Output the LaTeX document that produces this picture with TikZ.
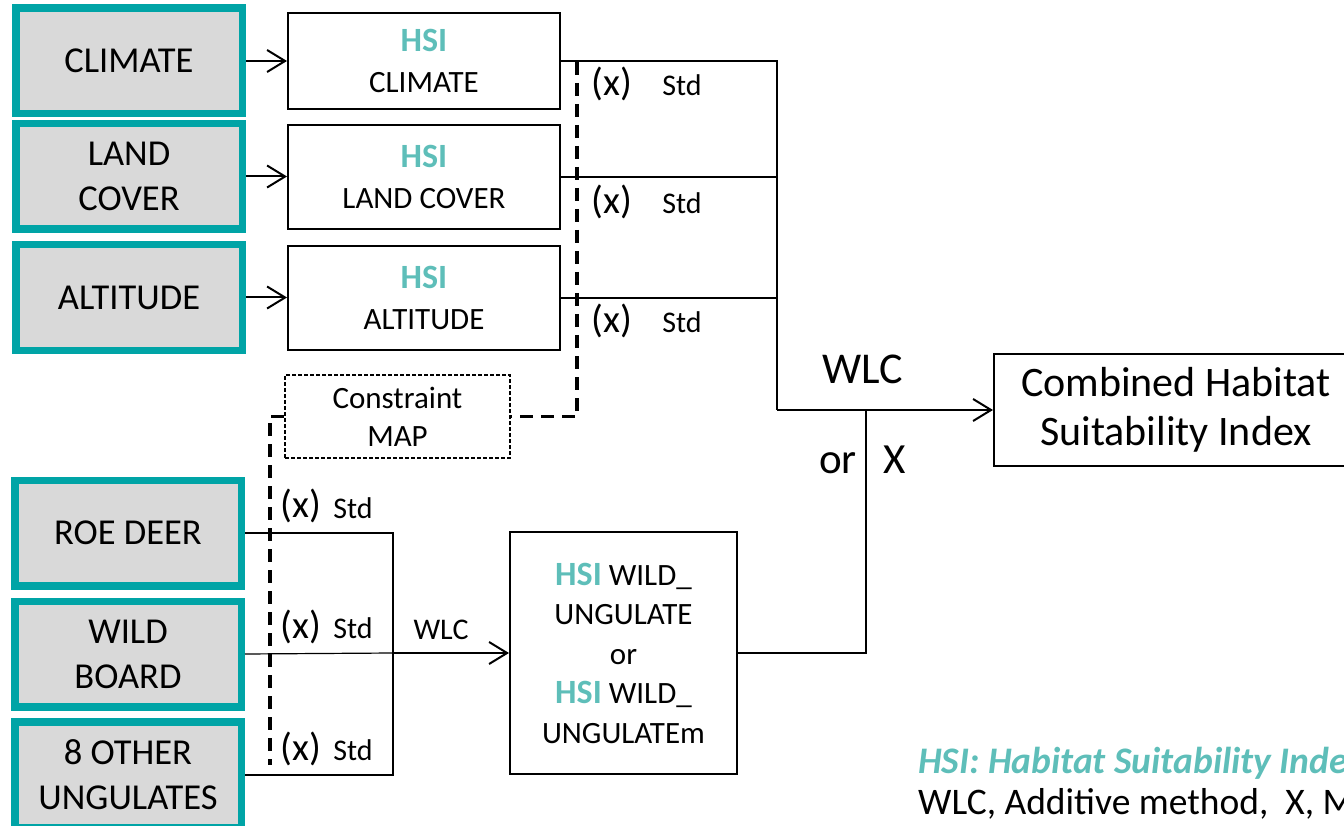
\documentclass[tikz,border=0pt]{standalone}
\usepackage{fontspec}
\setmainfont{Carlito}
\usetikzlibrary{arrows.meta}
\definecolor{boxteal}{RGB}{0,164,166}
\definecolor{hsiteal}{RGB}{94,190,185}
\definecolor{boxgrey}{RGB}{217,217,217}
\newcommand{\hsitag}{{\fontsize{34}{41}\selectfont\bfseries\color{hsiteal}HSI}}
\begin{document}
\begin{tikzpicture}[x=1pt,y=-1pt,
  factor/.style={draw=boxteal,fill=boxgrey,line width=7.5pt,minimum width=226.5pt,
    minimum height=105.5pt,align=center,inner sep=0pt,font=\fontsize{36.5}{45}\selectfont},
  hsibox/.style={draw,line width=2pt,minimum width=272pt,minimum height=104pt,
    align=center,inner sep=0pt,font=\fontsize{31}{41}\selectfont},
  link/.style={line width=2pt},
  arr/.style={line width=2pt,-{Straight Barb[length=18pt,width=22pt]}},
  dashlink/.style={line width=3.5pt,dash pattern=on 13pt off 8pt},
  xlab/.style={anchor=base,inner sep=0pt,font=\fontsize{39}{45}\selectfont},
  stdlab/.style={anchor=base,inner sep=0pt,font=\fontsize{30}{36}\selectfont}]
\useasboundingbox (0,0) rectangle (1344,826);
\clip (0,0) rectangle (1344,826);

% input maps
\node[factor] (clim) at (129,61) {CLIMATE};
\node[factor] (land) at (129,176.5) {LAND\\COVER};
\node[factor] (alt) at (129,297.5) {ALTITUDE};
\node[factor] (roe) at (128,533) {ROE DEER};
\node[factor] (boar) at (128,654) {WILD\\BOARD};
\node[factor] (oth) at (128,774.5) {8 OTHER\\UNGULATES};

% suitability maps
\node[hsibox,minimum height=96pt] (hclim) at (424,61) {\hsitag\\CLIMATE};
\node[hsibox] (hland) at (424,177) {\hsitag\\LAND COVER};
\node[hsibox] (halt) at (424,298) {\hsitag\\ALTITUDE};
\node[hsibox,minimum width=227pt,minimum height=242pt,font=\fontsize{31}{39.5}\selectfont] (hwild) at (623.5,653)
  {\hsitag{} WILD\_\\UNGULATE\\or\\\hsitag{} WILD\_\\UNGULATEm};
\node[draw,dash pattern=on 4pt off 2pt,line width=1.3pt,minimum width=225pt,minimum height=83pt,
  align=center,inner sep=0pt,font=\fontsize{31}{38}\selectfont] (cmap) at (397.5,416.5) {Constraint\\MAP};
\node[hsibox,minimum width=380pt,minimum height=112pt,font=\fontsize{42}{49}\selectfont] (comb) at (1184,410)
  {\hspace*{-16pt}Combined Habitat\\\hspace*{-16pt}Suitability Index};

\coordinate (jn) at (777,410);
\coordinate (jx) at (866,410);
\coordinate (jw) at (393,653);
\coordinate (dtop) at (577,62);
\coordinate (dbot) at (270,765);

\draw[arr] (clim.east) -- (clim.east -| hclim.west);
\draw[arr] (land.east) -- (land.east -| hland.west);
\draw[arr] (alt.east) -- (alt.east -| halt.west);

\draw[link] (hclim.east) -| (jn);
\draw[link] (hland.east) -- (hland.east -| jn);
\draw[link] (halt.east) -- (halt.east -| jn);
\draw[arr] (jn) -- (comb.west);

\draw[link] (roe.east) -| (jw) |- (oth.east);
\draw[line width=1.2pt] (boar.east) -- (jw);
\draw[arr] (jw) -- (hwild.west);
\draw[link] (hwild.east) -| (jx);

\draw[dashlink] (dtop) |- (cmap.east);
\draw[dashlink] (cmap.west) -| (dbot);

% labels
\node[xlab] (x1) at (612,96) {(x)};
\node[stdlab] (s1) at (682,96) {Std};
\node[xlab] (x2) at (612,214) {(x)};
\node[stdlab] (s2) at (682,214) {Std};
\node[xlab] (x3) at (612,333) {(x)};
\node[stdlab] (s3) at (682,333) {Std};
\node[xlab] (x4) at (301,517) {(x)};
\node[stdlab] (s4) at (353,518) {Std};
\node[xlab] (x5) at (301,638) {(x)};
\node[stdlab] (s5) at (353,638) {Std};
\node[xlab] (x6) at (301,760) {(x)};
\node[stdlab] (s6) at (353,760) {Std};
\node[stdlab] (wlcs) at (441,639) {WLC};
\node[anchor=base,inner sep=0pt,font=\fontsize{44}{50}\selectfont] (wlcb) at (862.5,383) {WLC};
\node[anchor=base,inner sep=0pt,font=\fontsize{43}{50}\selectfont] (orl) at (838,473) {or};
\node[anchor=base,inner sep=0pt,font=\fontsize{43}{50}\selectfont] (xl) at (894.5,473) {X};

% legend
\node[anchor=base west,inner sep=0pt,text=hsiteal,font=\fontsize{37.5}{44}\selectfont\bfseries\itshape] (leg1) at (918,773)
  {HSI: Habitat Suitability Index};
\node[anchor=base west,inner sep=0pt,font=\fontsize{37.5}{44}\selectfont] (leg2) at (918,814)
  {WLC, Additive method,~ X, M};
\end{tikzpicture}
\end{document}
